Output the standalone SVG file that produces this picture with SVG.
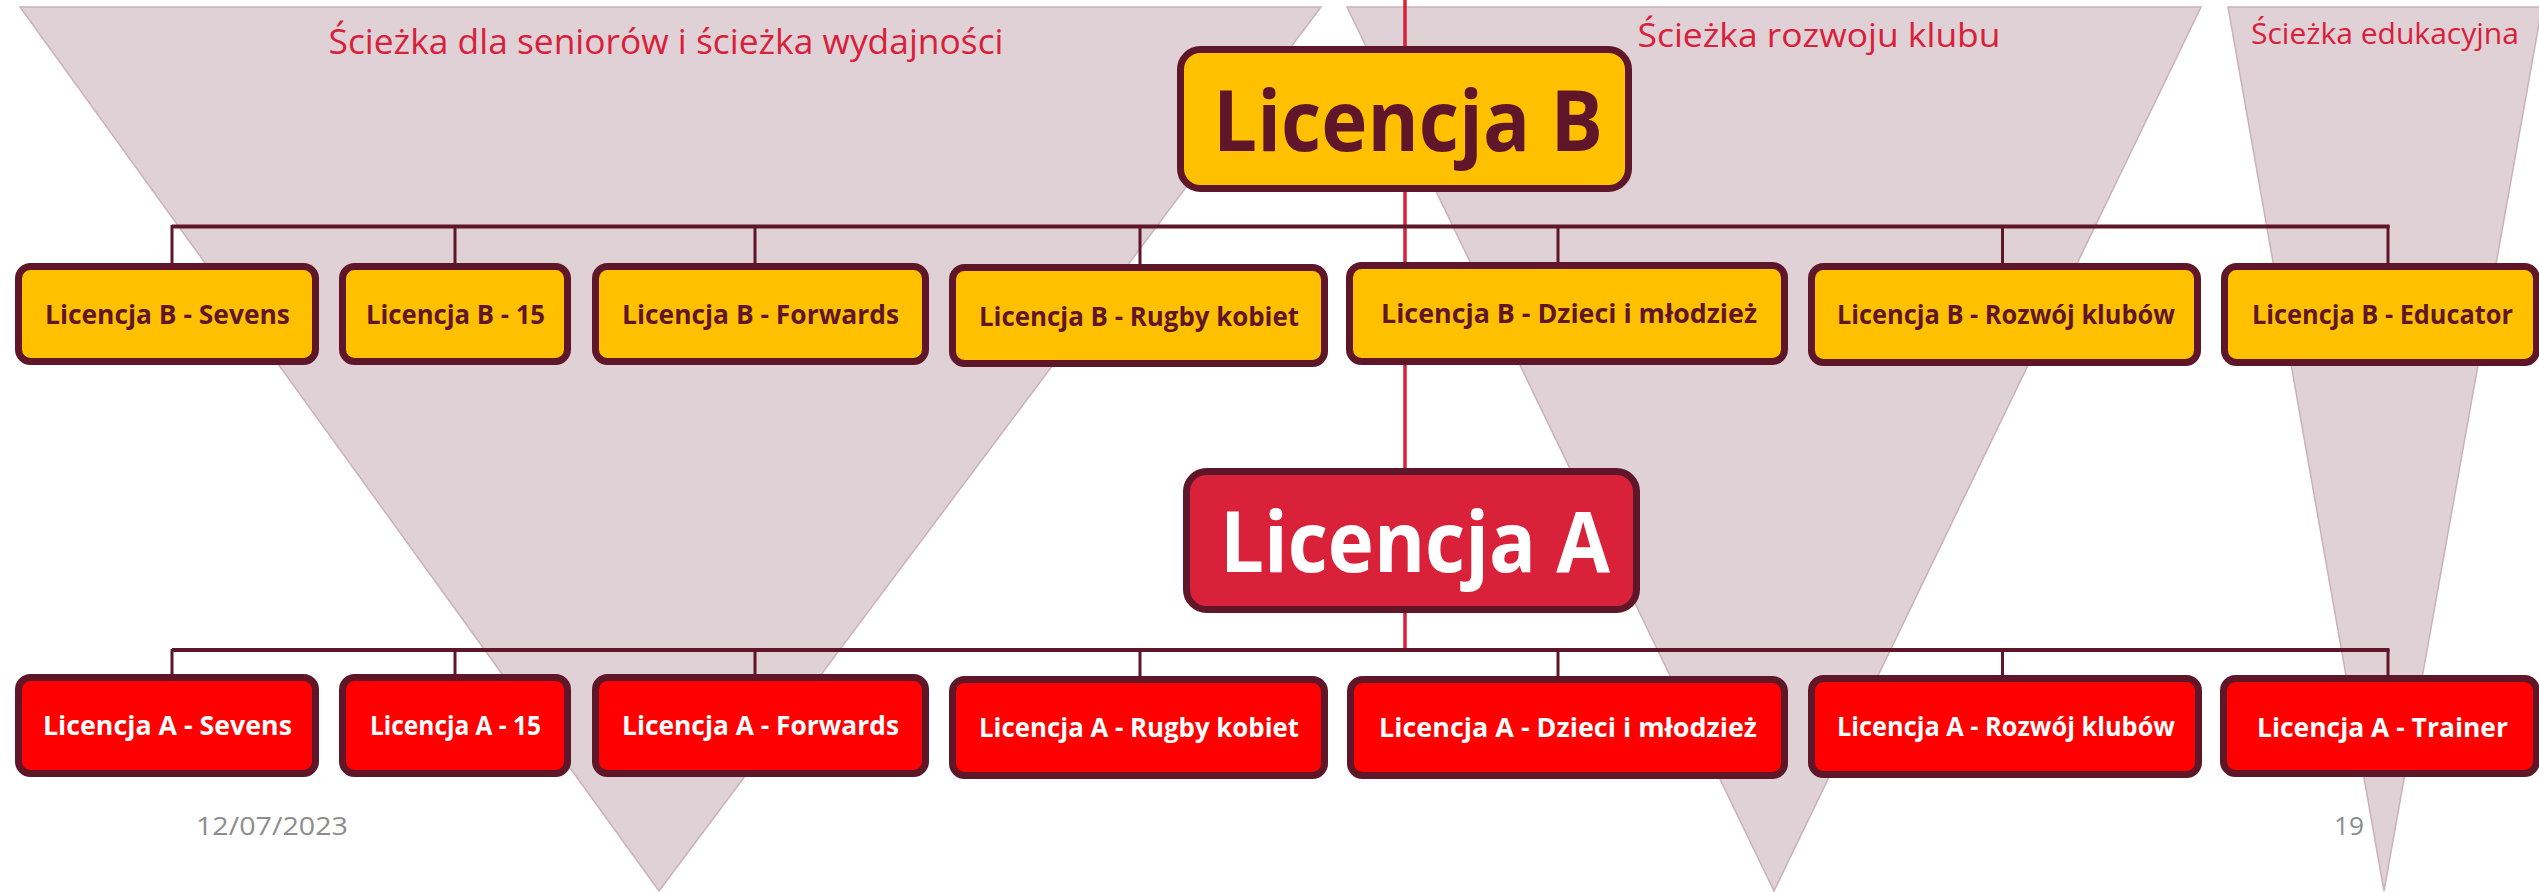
<svg xmlns="http://www.w3.org/2000/svg" width="2539" height="892" viewBox="0 0 2539 892">
<style>
.tri{fill:#dfd1d5;stroke:#c9b2b9;stroke-width:1.5}
.path{font-family:"Open Sans","Noto Sans",sans-serif;font-weight:400;fill:#d9203a;text-anchor:middle}
.bus{stroke:#5e1628;stroke-width:4;fill:none}
.drop{stroke:#5e1628;stroke-width:3;fill:none}
.red{stroke:#d9203a;stroke-width:3.5;fill:none}
.bbox{fill:#ffc000;stroke:#5e1628;stroke-width:7}
.abox{fill:#ff0000;stroke:#5e1628;stroke-width:7}
.bigb{fill:#ffc000;stroke:#5e1628;stroke-width:7}
.biga{fill:#d9223a;stroke:#5e1628;stroke-width:7}
.lbl{font-family:"Open Sans","Noto Sans",sans-serif;font-weight:700;font-size:27px;text-anchor:middle}
.big{font-family:"Open Sans","Noto Sans",sans-serif;font-weight:700;font-size:84px;text-anchor:middle}
.tb{fill:#5e1628}
.ta{fill:#ffffff}
.foot{font-family:"Open Sans","Noto Sans",sans-serif;font-size:26px;fill:#8c8c8c}
</style>
<g id="background">
<polygon class="tri" points="20,7 1321,7 659,891"/>
<polygon class="tri" points="1347,7 2201,7 1774,891"/>
<polygon class="tri" points="2228,7 2542,7 2384,891"/>
<text class="path" x="666" y="54" font-size="35" textLength="675" lengthAdjust="spacingAndGlyphs">Ścieżka dla seniorów i ścieżka wydajności</text>
<text class="path" x="1819" y="47" font-size="33" textLength="363" lengthAdjust="spacingAndGlyphs">Ścieżka rozwoju klubu</text>
<text class="path" x="2385" y="44" font-size="29" textLength="268" lengthAdjust="spacingAndGlyphs">Ścieżka edukacyjna</text>
</g>
<g id="connectors">
<line class="red" x1="1405" y1="0" x2="1405" y2="650"/>
<line class="bus" x1="172" y1="226.5" x2="2389.5" y2="226.5"/>
<path class="drop" d="M172,225 V264 M455,226 V264 M755,226 V264 M1140,226 V265 M1558,226 V263 M2002.5,226 V264 M2388,225 V264"/>
<line class="bus" x1="172" y1="650" x2="2389.5" y2="650"/>
<path class="drop" d="M172,649 V675 M455,650 V675 M755,650 V675 M1140,650 V677 M1558,650 V677 M2002.5,650 V676 M2388,649 V676"/>
</g>
<g id="licencja-b">
<rect class="bigb" x="1180.5" y="49.5" width="448" height="139" rx="20"/>
<text class="big tb" x="1408" y="151" textLength="390" lengthAdjust="spacingAndGlyphs">Licencja B</text>
</g>
<g id="licencja-a">
<rect class="biga" x="1186.5" y="471.5" width="450" height="138" rx="20"/>
<text class="big ta" x="1415" y="572" textLength="390" lengthAdjust="spacingAndGlyphs">Licencja A</text>
</g>
<g id="b-sevens"><rect class="bbox" x="18.5" y="266.5" width="297" height="95" rx="12"/><text class="lbl tb" x="167.5" y="324" textLength="245" lengthAdjust="spacingAndGlyphs">Licencja B - Sevens</text></g>
<g id="b-15"><rect class="bbox" x="342.5" y="266.5" width="225" height="95" rx="12"/><text class="lbl tb" x="455.5" y="324" textLength="179" lengthAdjust="spacingAndGlyphs">Licencja B - 15</text></g>
<g id="b-forwards"><rect class="bbox" x="595.5" y="266.5" width="330" height="95" rx="12"/><text class="lbl tb" x="760.5" y="324" textLength="277" lengthAdjust="spacingAndGlyphs">Licencja B - Forwards</text></g>
<g id="b-rugby-kobiet"><rect class="bbox" x="952.5" y="267.5" width="372" height="96" rx="12"/><text class="lbl tb" x="1139" y="326" textLength="320" lengthAdjust="spacingAndGlyphs">Licencja B - Rugby kobiet</text></g>
<g id="b-dzieci"><rect class="bbox" x="1349.5" y="265.5" width="435" height="96" rx="12"/><text class="lbl tb" x="1569" y="323" textLength="376" lengthAdjust="spacingAndGlyphs">Licencja B - Dzieci i młodzież</text></g>
<g id="b-rozwoj"><rect class="bbox" x="1811.5" y="266.5" width="386" height="96" rx="12"/><text class="lbl tb" x="2006" y="324" textLength="338" lengthAdjust="spacingAndGlyphs">Licencja B - Rozwój klubów</text></g>
<g id="b-educator"><rect class="bbox" x="2224.5" y="266.5" width="312" height="96" rx="12"/><text class="lbl tb" x="2382.5" y="324" textLength="261" lengthAdjust="spacingAndGlyphs">Licencja B - Educator</text></g>
<g id="a-sevens"><rect class="abox" x="18.5" y="677.5" width="297" height="96" rx="12"/><text class="lbl ta" x="167.5" y="735" textLength="249" lengthAdjust="spacingAndGlyphs">Licencja A - Sevens</text></g>
<g id="a-15"><rect class="abox" x="342.5" y="677.5" width="225" height="96" rx="12"/><text class="lbl ta" x="455.5" y="735" textLength="171" lengthAdjust="spacingAndGlyphs">Licencja A - 15</text></g>
<g id="a-forwards"><rect class="abox" x="595.5" y="677.5" width="330" height="96" rx="12"/><text class="lbl ta" x="760.5" y="735" textLength="277" lengthAdjust="spacingAndGlyphs">Licencja A - Forwards</text></g>
<g id="a-rugby-kobiet"><rect class="abox" x="952.5" y="679.5" width="372" height="96" rx="12"/><text class="lbl ta" x="1139" y="737" textLength="320" lengthAdjust="spacingAndGlyphs">Licencja A - Rugby kobiet</text></g>
<g id="a-dzieci"><rect class="abox" x="1350.5" y="679.5" width="434" height="96" rx="12"/><text class="lbl ta" x="1568" y="737" textLength="378" lengthAdjust="spacingAndGlyphs">Licencja A - Dzieci i młodzież</text></g>
<g id="a-rozwoj"><rect class="abox" x="1811.5" y="678.5" width="387" height="96" rx="12"/><text class="lbl ta" x="2006" y="736" textLength="338" lengthAdjust="spacingAndGlyphs">Licencja A - Rozwój klubów</text></g>
<g id="a-trainer"><rect class="abox" x="2223.5" y="678.5" width="313" height="95" rx="12"/><text class="lbl ta" x="2382.5" y="736.5" textLength="251" lengthAdjust="spacingAndGlyphs">Licencja A - Trainer</text></g>
<g id="footer">
<text class="foot" x="196" y="835" textLength="152" lengthAdjust="spacingAndGlyphs">12/07/2023</text>
<text class="foot" x="2334" y="835" textLength="30" lengthAdjust="spacingAndGlyphs">19</text>
</g>
</svg>
